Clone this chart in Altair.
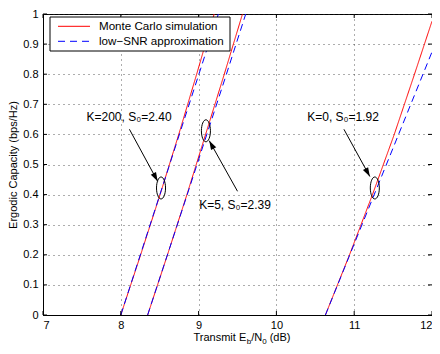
import math
import altair as alt
import pandas as pd

# ---------------- data ----------------
series_names = ["Monte Carlo simulation", "low\u2212SNR approximation"]

k200_mc_x = [8.00, 8.255, 8.505, 8.745, 8.975, 9.20]
k200_mc_y = [0.0, 0.2, 0.4, 0.6, 0.8, 1.0]
k200_ap_x = [8.00, 8.50, 9.00, 9.254]
k200_ap_y = [0.0, 0.398, 0.797, 1.0]

k5_mc_x = [8.345, 8.60, 8.85, 9.09, 9.33, 9.564]
k5_mc_y = [0.0, 0.2, 0.4, 0.6, 0.8, 1.0]
k5_ap_x = [8.345, 8.85, 9.35, 9.606]
k5_ap_y = [0.0, 0.397, 0.794, 1.0]

k0_mc_x = [10.63, 10.94, 11.235, 11.515, 11.775, 12.0]
k0_mc_y = [0.0, 0.2, 0.4, 0.6, 0.8, 0.976]
k0_ap_x = [10.63, 11.0, 11.5, 12.0]
k0_ap_y = [0.0, 0.236, 0.555, 0.874]

ann_labels = ["K=200, S\u2080=2.40", "K=5, S\u2080=2.39", "K=0, S\u2080=1.92"]
ann_text_x = [8.106, 9.468, 10.857]
ann_text_y = [0.644, 0.352, 0.644]
ellipse_x = [8.517, 9.094, 11.265]
ellipse_y = [0.422, 0.612, 0.422]
arrow_x0 = [8.111, 9.50, 10.868]
arrow_y0 = [0.617, 0.411, 0.617]
arrow_x1 = [8.474, 9.137, 11.201]
arrow_y1 = [0.444, 0.579, 0.460]

x_ticks = [7, 8, 9, 10, 11, 12]
y_ticks = [0, 0.1, 0.2, 0.3, 0.4, 0.5, 0.6, 0.7, 0.8, 0.9, 1.0]

# ---------------- layout / style ----------------
PAD_L, PAD_T, PAD_R = 35, 6, 0
W, H = 389, 301
PAD_B = 338 - PAD_T - H
X_DOM = [7, 12]
FONT = "Liberation Sans"
RED, BLUE = "#ff0000", "#0000ff"
DASH = [7, 4.5]

rows = []
for name, xs, ys, ser in [
    ("k200_mc", k200_mc_x, k200_mc_y, series_names[0]),
    ("k5_mc", k5_mc_x, k5_mc_y, series_names[0]),
    ("k0_mc", k0_mc_x, k0_mc_y, series_names[0]),
    ("k200_ap", k200_ap_x, k200_ap_y, series_names[1]),
    ("k5_ap", k5_ap_x, k5_ap_y, series_names[1]),
    ("k0_ap", k0_ap_x, k0_ap_y, series_names[1]),
]:
    for xv, yv in zip(xs, ys):
        rows.append({"x": xv, "y": yv, "curve": name, "series": ser})
lines_df = pd.DataFrame(rows)


def head_angle(x0, y0, x1, y1):
    dx = (x1 - x0) * W / (X_DOM[1] - X_DOM[0])
    dy = -(y1 - y0) * H
    return math.degrees(math.atan2(dx, -dy)) % 360


ann_df = pd.DataFrame({
    "label": ann_labels, "tx": ann_text_x, "ty": ann_text_y,
    "ex": ellipse_x, "ey": ellipse_y,
    "x0": arrow_x0, "y0": arrow_y0, "x1": arrow_x1, "y1": arrow_y1,
    "ang": [head_angle(a, b, c, d) for a, b, c, d in zip(arrow_x0, arrow_y0, arrow_x1, arrow_y1)],
})

xscale = alt.Scale(domain=X_DOM, nice=False, zero=False)
yscale = alt.Scale(domain=[0, 1], nice=False)
x_axis = alt.Axis(values=x_ticks, title=None, format="d", labelPadding=4)
y_axis = alt.Axis(values=y_ticks, format="~g", labelPadding=5,
                  title="Ergodic Capacity (bps/Hz)",
                  titleX=-24.5, titleY=H / 2,
                  titleAlign="center", titleBaseline="bottom")


def qx(field):
    return alt.X(field, scale=xscale, axis=x_axis)


def qy(field):
    return alt.Y(field, scale=yscale, axis=y_axis)


color_enc = alt.Color("series:N", scale=alt.Scale(domain=series_names, range=[RED, BLUE]),
                      legend=None)
dash_enc = alt.StrokeDash("series:N",
                          scale=alt.Scale(domain=series_names, range=[[1, 0], DASH]),
                          legend=None)

base_lines = alt.Chart(lines_df).mark_line(strokeWidth=1, clip=True).encode(
    x=qx("x:Q"), y=qy("y:Q"), color=color_enc, strokeDash=dash_enc, detail="curve:N")
red_lines = base_lines.transform_filter(alt.datum.series == series_names[0])
blue_lines = base_lines.transform_filter(alt.datum.series == series_names[1])

ellipse_path = "M-0.41,0A0.41,1,0,1,0,0.41,0A0.41,1,0,1,0,-0.41,0Z"
ellipses = alt.Chart(ann_df).mark_point(
    shape=ellipse_path, size=484, filled=False, stroke="black", strokeWidth=1, opacity=1
).encode(x=qx("ex:Q"), y=qy("ey:Q"))

arrows = alt.Chart(ann_df).mark_rule(color="black", strokeWidth=1).encode(
    x=qx("x0:Q"), y=qy("y0:Q"), x2="x1:Q", y2="y1:Q")

head_path = "M0,0L-0.33,1L0.33,1Z"
heads = alt.Chart(ann_df).mark_point(
    shape=head_path, size=324, filled=True, fill="black", strokeWidth=0, opacity=1
).encode(x=qx("x1:Q"), y=qy("y1:Q"), angle=alt.Angle("ang:Q", scale=None))

labels = alt.Chart(ann_df).mark_text(
    font=FONT, fontSize=12, color="black", align="center", baseline="alphabetic"
).encode(x=qx("tx:Q"), y=qy("ty:Q"), text="label:N")

# inward MATLAB-style ticks
xt_df = pd.DataFrame({"x": x_ticks})
yt_df = pd.DataFrame({"y": y_ticks})
tick_len = 4
xt_bottom = alt.Chart(xt_df).mark_rule(color="black", strokeWidth=1).encode(
    x=qx("x:Q"), y=alt.value(H), y2=alt.value(H - tick_len))
xt_top = alt.Chart(xt_df).mark_rule(color="black", strokeWidth=1).encode(
    x=qx("x:Q"), y=alt.value(0), y2=alt.value(tick_len))
yt_left = alt.Chart(yt_df).mark_rule(color="black", strokeWidth=1).encode(
    y=qy("y:Q"), x=alt.value(0), x2=alt.value(tick_len))
yt_right = alt.Chart(yt_df).mark_rule(color="black", strokeWidth=1).encode(
    y=qy("y:Q"), x=alt.value(W), x2=alt.value(W - tick_len))

dummy = pd.DataFrame({"d": [0]})

# legend box drawn by hand (MATLAB style)
LX0, LX1, LY0, LY1 = 7, 187, 3, 37
leg_box = alt.Chart(dummy).mark_rect(fill="white", stroke="black", strokeWidth=1).encode(
    x=alt.value(LX0), x2=alt.value(LX1), y=alt.value(LY0), y2=alt.value(LY1))
leg_items = []
for i, (name, col, dash) in enumerate(zip(series_names, [RED, BLUE], [[1, 0], [7, 5]])):
    yy = LY0 + 9.3 + 15 * i
    leg_items.append(
        alt.Chart(dummy).mark_rule(color=col, strokeWidth=1, strokeDash=dash).encode(
            x=alt.value(15), x2=alt.value(47), y=alt.value(yy)))
    leg_items.append(
        alt.Chart(dummy).mark_text(text=name, font=FONT, fontSize=11.6, color="black",
                                   align="left", baseline="middle").encode(
            x=alt.value(56), y=alt.value(yy + 0.5)))

# x-axis title with subscripts, built from text pieces
TY = H + 26
pieces = []
px = 150.5
for txt, size, dy, w in [("Transmit E", 11, 0, 53.2), ("b", 8, 3, 4.45),
                         ("/N", 11, 0, 11.0), ("0", 8, 3, 4.45 + 3.1), ("(dB)", 11, 0, 20.8)]:
    pieces.append(
        alt.Chart(dummy).mark_text(text=txt, font=FONT, fontSize=size, color="black",
                                   align="left", baseline="alphabetic")
        .encode(x=alt.value(px), y=alt.value(TY + dy))
    )
    px += w

chart = alt.layer(
    red_lines, blue_lines, xt_bottom, xt_top, yt_left, yt_right,
    ellipses, arrows, heads, labels, leg_box, *leg_items, *pieces
).properties(
    width=W, height=H,
    autosize=alt.AutoSizeParams(type="none"),
    padding={"left": PAD_L, "top": PAD_T, "right": PAD_R, "bottom": PAD_B},
).configure_view(
    stroke="black", strokeWidth=1
).configure_axis(
    labelFont=FONT, labelFontSize=11, labelColor="black",
    titleFont=FONT, titleFontSize=11, titleFontWeight="normal", titleColor="black",
    domainColor="black", domainWidth=1, ticks=False,
    grid=True, gridColor="#333333", gridDash=[1, 4], gridWidth=1, gridOpacity=0.8,
)

chart.save("out.html", embed_options={"renderer": "svg", "actions": False})
